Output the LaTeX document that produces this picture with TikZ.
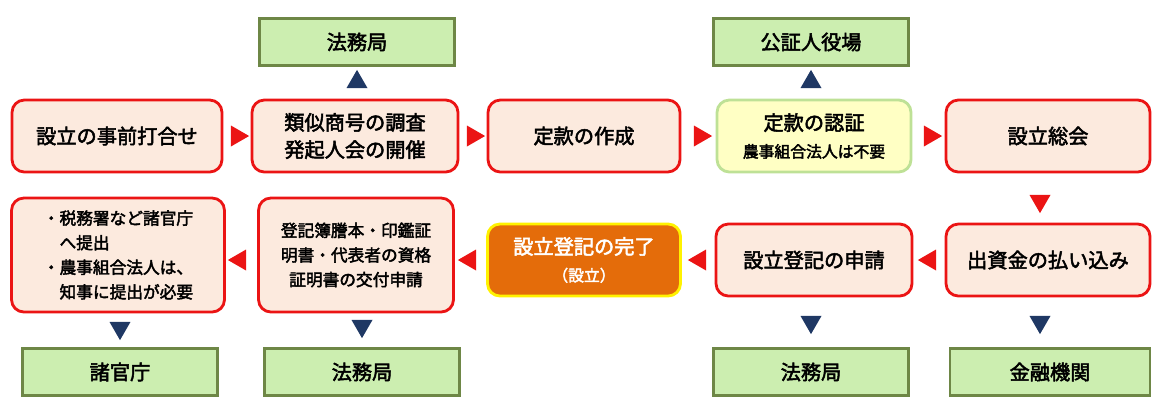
\documentclass[tikz,border=0pt]{standalone}
\usepackage{fontspec}
\newfontfamily\jp[AutoFakeBold=2.5]{Noto Sans CJK JP}
\usetikzlibrary{shapes.geometric}
\definecolor{peach}{RGB}{252,234,222}
\definecolor{boxred}{RGB}{235,20,20}
\definecolor{leaf}{RGB}{204,238,176}
\definecolor{leafline}{RGB}{110,135,70}
\definecolor{cream}{RGB}{255,255,196}
\definecolor{paleline}{RGB}{190,225,150}
\definecolor{deeporange}{RGB}{228,108,10}
\definecolor{navy}{RGB}{31,56,100}
\tikzset{
  stepbox/.style={draw=boxred, fill=peach, line width=1.6pt, rounded corners=7pt, align=center,
    font=\jp\bfseries\fontsize{11.5}{15.5}\selectfont, minimum height=1.44cm},
  office/.style={draw=leafline, fill=leaf, line width=1.4pt, minimum width=3.9cm, minimum height=0.94cm,
    font=\jp\bfseries\fontsize{11.5}{13}\selectfont},
  tri/.style={isosceles triangle, isosceles triangle apex angle=60, inner sep=0pt,
    minimum width=0.42cm, minimum height=0.36cm, shape border rotate=#1},
  redtri/.style={tri=#1, fill=boxred},
  navytri/.style={tri=#1, fill=navy}
}
\begin{document}
\begin{tikzpicture}[x=0.02cm,y=-0.02cm]
\useasboundingbox (0,0) rectangle (1164,414);
% first row
\node[stepbox, minimum width=4.2cm] (meet) at (117,136) {設立の事前打合せ};
\node[stepbox, minimum width=4.12cm] (check) at (355,136) {類似商号の調査\\発起人会の開催};
\node[stepbox, minimum width=3.84cm] (draft) at (584,136) {定款の作成};
\node[stepbox, minimum width=3.88cm, draw=paleline, fill=cream] (notar) at (814,136)
  {定款の認証\\{\fontsize{9}{11}\selectfont 農事組合法人は不要}};
\node[stepbox, minimum width=4.08cm] (general) at (1048,136) {設立総会};
% second row
\node[stepbox, minimum width=4.26cm, minimum height=2.28cm, align=left,
  font=\jp\bfseries\fontsize{9.5}{14}\selectfont] (notice) at (118,255)
  {・税務署など諸官庁\\\quad へ提出\\・農事組合法人は、\\\quad 知事に提出が必要};
\node[stepbox, minimum width=3.9cm, minimum height=2.28cm,
  font=\jp\bfseries\fontsize{9.5}{14}\selectfont] (cert) at (356,255)
  {登記簿謄本・印鑑証\\明書・代表者の資格\\証明書の交付申請};
\node[stepbox, minimum width=3.86cm, draw=yellow, fill=deeporange, text=white] (done) at (584,260)
  {設立登記の完了\\{\fontsize{9}{11}\selectfont （設立）}};
\node[stepbox, minimum width=3.92cm] (apply) at (814,260) {設立登記の申請};
\node[stepbox, minimum width=4.08cm] (pay) at (1048,260) {出資金の払い込み};
% offices
\node[office] (legal1) at (357,42) {法務局};
\node[office] (notary) at (811,42) {公証人役場};
\node[office] (agency) at (120,372) {諸官庁};
\node[office] (legal2) at (362,372) {法務局};
\node[office] (legal3) at (811,372) {法務局};
\node[office, minimum width=4cm] (bank) at (1050,372) {金融機関};
% flow marks
\node[redtri=0] (r1) at (237,136) {};
\node[redtri=0] (r2) at (473,136) {};
\node[redtri=0] (r3) at (700,136) {};
\node[redtri=0] (r4) at (930,136) {};
\node[redtri=-90] (r5) at (1040,201) {};
\node[redtri=180] (r6) at (930,260) {};
\node[redtri=180] (r7) at (700,260) {};
\node[redtri=180] (r8) at (470,260) {};
\node[redtri=180] (r9) at (240,260) {};
\node[navytri=90] (u1) at (357,82) {};
\node[navytri=90] (u2) at (811,82) {};
\node[navytri=-90] (d1) at (120,328) {};
\node[navytri=-90] (d2) at (362,326) {};
\node[navytri=-90] (d3) at (811,322) {};
\node[navytri=-90] (d4) at (1040,322) {};
\end{tikzpicture}
\end{document}
